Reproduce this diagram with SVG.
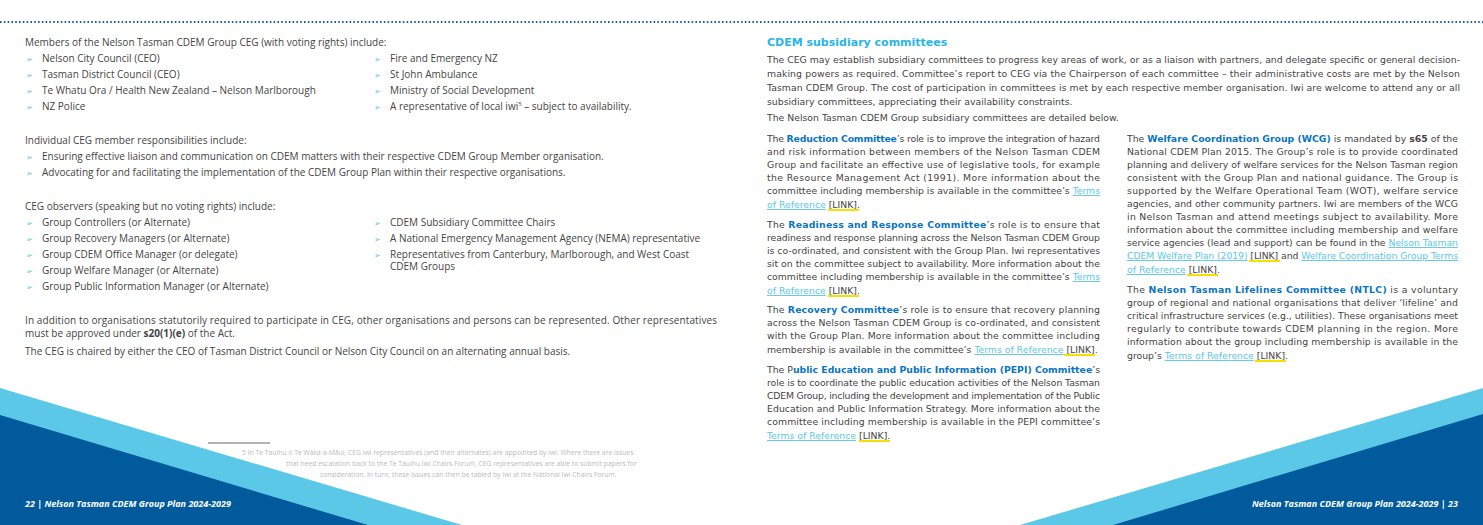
<svg xmlns="http://www.w3.org/2000/svg" width="1483" height="525" viewBox="0 0 1483 525">
<style>
.l{font-family:"Open Sans","Liberation Sans",sans-serif;font-size:10px;fill:#444}
.r{font-family:"DejaVu Sans","Liberation Sans",sans-serif;font-size:9.3px;fill:#444}
.b{fill:#0a74c4;font-weight:bold}
.k{fill:#5bc8e8;text-decoration:underline}
.h{font-family:"DejaVu Sans",sans-serif;font-size:11px;font-weight:bold;fill:#29b5e8}
.ar{fill:#5bc8e8;font-family:"DejaVu Sans",sans-serif;font-size:8px}
.fn{font-family:"Open Sans","Liberation Sans",sans-serif;font-size:6.8px;fill:#bbb}
.ft{font-family:"Open Sans","Liberation Sans",sans-serif;font-size:9px;font-weight:bold;font-style:italic;fill:#fff}
.yl{stroke:#f5e000;stroke-width:2}
</style>
<rect width="1483" height="525" fill="#fff"/>
<line x1="0" y1="22" x2="1483" y2="22" stroke="#1d5fa8" stroke-width="1.8" stroke-dasharray="1.6 2.2"/>
<g id="decor">
<polygon points="0,388 462,525 0,525" fill="#5bc8e8"/>
<polygon points="0,415 368,525 0,525" fill="#005a9c"/>
<polygon points="1483,388 1020,525 1483,525" fill="#5bc8e8"/>
<polygon points="1483,414 1113,525 1483,525" fill="#005a9c"/>
<line x1="208" y1="443" x2="270" y2="443" stroke="#666" stroke-width="1"/>
</g>
<g id="left-page">
<text class="l" x="25" y="46">Members of the Nelson Tasman CDEM Group CEG (with voting rights) include:</text>
<g class="ar"><text x="26" y="62">➢</text><text x="26" y="78">➢</text><text x="26" y="94">➢</text><text x="26" y="110">➢</text>
<text x="374" y="62">➢</text><text x="374" y="78">➢</text><text x="374" y="94">➢</text><text x="374" y="110">➢</text>
<text x="26" y="160">➢</text><text x="26" y="176">➢</text>
<text x="26" y="226">➢</text><text x="26" y="242">➢</text><text x="26" y="258">➢</text><text x="26" y="274">➢</text><text x="26" y="290">➢</text>
<text x="374" y="226">➢</text><text x="374" y="242">➢</text><text x="374" y="258">➢</text></g>
<text class="l" x="42" y="62">Nelson City Council (CEO)</text>
<text class="l" x="42" y="78">Tasman District Council (CEO)</text>
<text class="l" x="42" y="94">Te Whatu Ora / Health New Zealand – Nelson Marlborough</text>
<text class="l" x="42" y="110">NZ Police</text>
<text class="l" x="390" y="62">Fire and Emergency NZ</text>
<text class="l" x="390" y="78">St John Ambulance</text>
<text class="l" x="390" y="94">Ministry of Social Development</text>
<text class="l" x="390" y="110">A representative of local iwi<tspan font-size="6" dy="-4">5</tspan><tspan dy="4"> – subject to availability.</tspan></text>
<text class="l" x="25" y="144">Individual CEG member responsibilities include:</text>
<text class="l" x="42" y="160">Ensuring effective liaison and communication on CDEM matters with their respective CDEM Group Member organisation.</text>
<text class="l" x="42" y="176">Advocating for and facilitating the implementation of the CDEM Group Plan within their respective organisations.</text>
<text class="l" x="25" y="210">CEG observers (speaking but no voting rights) include:</text>
<text class="l" x="42" y="226">Group Controllers (or Alternate)</text>
<text class="l" x="42" y="242">Group Recovery Managers (or Alternate)</text>
<text class="l" x="42" y="258">Group CDEM Office Manager (or delegate)</text>
<text class="l" x="42" y="274">Group Welfare Manager (or Alternate)</text>
<text class="l" x="42" y="290">Group Public Information Manager (or Alternate)</text>
<text class="l" x="390" y="226">CDEM Subsidiary Committee Chairs</text>
<text class="l" x="390" y="242">A National Emergency Management Agency (NEMA) representative</text>
<text class="l" x="390" y="258">Representatives from Canterbury, Marlborough, and West Coast</text>
<text class="l" x="390" y="270">CDEM Groups</text>
<text class="l" x="25" y="324" textLength="692" lengthAdjust="spacing">In addition to organisations statutorily required to participate in CEG, other organisations and persons can be represented. Other representatives</text>
<text class="l" x="25" y="337">must be approved under <tspan font-weight="bold">s20(1)(e)</tspan> of the Act.</text>
<text class="l" x="25" y="355">The CEG is chaired by either the CEO of Tasman District Council or Nelson City Council on an alternating annual basis.</text>
<text class="fn" x="242" y="455">5   In Te Tauihu o Te Waka a-Māui, CEG iwi representatives (and their alternates) are appointed by iwi. Where there are issues</text>
<text class="fn" x="286" y="466">that need escalation back to the Te Tauihu Iwi Chairs Forum, CEG representatives are able to submit papers for</text>
<text class="fn" x="320" y="477">consideration. In turn, these issues can then be tabled by iwi at the National Iwi Chairs Forum.</text>
<text class="ft" x="25" y="507">22 | Nelson Tasman CDEM Group Plan 2024-2029</text>
</g>
<g id="right-page">
<text class="h" x="767" y="46">CDEM subsidiary committees</text>
<text class="r" x="767" y="63" textLength="693" lengthAdjust="spacing">The CEG may establish subsidiary committees to progress key areas of work, or as a liaison with partners, and delegate specific or general decision-</text>
<text class="r" x="767" y="77" textLength="693" lengthAdjust="spacing">making powers as required. Committee’s report to CEG via the Chairperson of each committee – their administrative costs are met by the Nelson</text>
<text class="r" x="767" y="91" textLength="693" lengthAdjust="spacing">Tasman CDEM Group. The cost of participation in committees is met by each respective member organisation. Iwi are welcome to attend any or all</text>
<text class="r" x="767" y="105">subsidiary committees, appreciating their availability constraints.</text>
<text class="r" x="767" y="121">The Nelson Tasman CDEM Group subsidiary committees are detailed below.</text>

<g id="reduction">
<text class="r" x="767" y="142" textLength="333" lengthAdjust="spacing">The <tspan class="b">Reduction Committee</tspan>’s role is to improve the integration of hazard</text>
<text class="r" x="767" y="155" textLength="333" lengthAdjust="spacing">and risk information between members of the Nelson Tasman CDEM</text>
<text class="r" x="767" y="168" textLength="333" lengthAdjust="spacing">Group and facilitate an effective use of legislative tools, for example</text>
<text class="r" x="767" y="181" textLength="333" lengthAdjust="spacing">the Resource Management Act (1991). More information about the</text>
<text class="r" x="767" y="194" textLength="333" lengthAdjust="spacing">committee including membership is available in the committee’s <tspan class="k">Terms</tspan></text>
<text class="r" x="767" y="208"><tspan class="k">of Reference</tspan> [LINK].</text>
<line class="yl" x1="828" y1="210" x2="859" y2="210"/>
</g>
<g id="readiness">
<text class="r" x="767" y="228" textLength="333" lengthAdjust="spacing">The <tspan class="b">Readiness and Response Committee</tspan>’s role is to ensure that</text>
<text class="r" x="767" y="241" textLength="333" lengthAdjust="spacing">readiness and response planning across the Nelson Tasman CDEM Group</text>
<text class="r" x="767" y="254" textLength="333" lengthAdjust="spacing">is co-ordinated, and consistent with the Group Plan. Iwi representatives</text>
<text class="r" x="767" y="267" textLength="333" lengthAdjust="spacing">sit on the committee subject to availability. More information about the</text>
<text class="r" x="767" y="280" textLength="333" lengthAdjust="spacing">committee including membership is available in the committee’s <tspan class="k">Terms</tspan></text>
<text class="r" x="767" y="294"><tspan class="k">of Reference</tspan> [LINK].</text>
<line class="yl" x1="828" y1="296" x2="859" y2="296"/>
</g>
<g id="recovery">
<text class="r" x="767" y="313" textLength="333" lengthAdjust="spacing">The <tspan class="b">Recovery Committee</tspan>’s role is to ensure that recovery planning</text>
<text class="r" x="767" y="326" textLength="333" lengthAdjust="spacing">across the Nelson Tasman CDEM Group is co-ordinated, and consistent</text>
<text class="r" x="767" y="339" textLength="333" lengthAdjust="spacing">with the Group Plan.  More information about the committee including</text>
<text class="r" x="767" y="353">membership is available in the committee’s <tspan class="k">Terms of Reference</tspan> [LINK].</text>
<line class="yl" x1="1064" y1="355" x2="1095" y2="355"/>
</g>
<g id="pepi">
<text class="r" x="767" y="373" textLength="333" lengthAdjust="spacing">The P<tspan class="b">ublic Education and Public Information (PEPI) Committee</tspan>’s</text>
<text class="r" x="767" y="386" textLength="333" lengthAdjust="spacing">role is to coordinate the public education activities of the Nelson Tasman</text>
<text class="r" x="767" y="399" textLength="333" lengthAdjust="spacing">CDEM Group, including the development and implementation of the Public</text>
<text class="r" x="767" y="412" textLength="333" lengthAdjust="spacing">Education and Public Information Strategy. More information about the</text>
<text class="r" x="767" y="425" textLength="333" lengthAdjust="spacing">committee including membership is available in the PEPI committee’s</text>
<text class="r" x="767" y="439"><tspan class="k">Terms of Reference</tspan> [LINK].</text>
<line class="yl" x1="859" y1="441" x2="890" y2="441"/>
</g>
<g id="wcg">
<text class="r" x="1127" y="142" textLength="331" lengthAdjust="spacing">The <tspan class="b">Welfare Coordination Group (WCG)</tspan> is mandated by <tspan font-weight="bold">s65</tspan> of the</text>
<text class="r" x="1127" y="155" textLength="331" lengthAdjust="spacing">National CDEM Plan 2015. The Group’s role is to provide coordinated</text>
<text class="r" x="1127" y="168" textLength="331" lengthAdjust="spacing">planning and delivery of welfare services for the Nelson Tasman region</text>
<text class="r" x="1127" y="181" textLength="331" lengthAdjust="spacing">consistent with the Group Plan and national guidance. The Group is</text>
<text class="r" x="1127" y="194" textLength="331" lengthAdjust="spacing">supported by the Welfare Operational Team (WOT), welfare service</text>
<text class="r" x="1127" y="207" textLength="331" lengthAdjust="spacing">agencies, and other community partners. Iwi are members of the WCG</text>
<text class="r" x="1127" y="220" textLength="331" lengthAdjust="spacing">in Nelson Tasman and attend meetings subject to availability. More</text>
<text class="r" x="1127" y="233" textLength="331" lengthAdjust="spacing">information about the committee including membership and welfare</text>
<text class="r" x="1127" y="246" textLength="331" lengthAdjust="spacing">service agencies (lead and support) can be found in the <tspan class="k">Nelson Tasman</tspan></text>
<text class="r" x="1127" y="259" textLength="331" lengthAdjust="spacing"><tspan class="k">CDEM Welfare Plan (2019)</tspan> [LINK] and <tspan class="k">Welfare Coordination Group Terms</tspan></text>
<text class="r" x="1127" y="273"><tspan class="k">of Reference</tspan> [LINK].</text>
<line class="yl" x1="1249" y1="261" x2="1280" y2="261"/>
<line class="yl" x1="1187" y1="275" x2="1218" y2="275"/>
</g>
<g id="ntlc">
<text class="r" x="1127" y="293" textLength="331" lengthAdjust="spacing">The <tspan class="b">Nelson Tasman Lifelines Committee (NTLC)</tspan> is a voluntary</text>
<text class="r" x="1127" y="306" textLength="331" lengthAdjust="spacing">group of regional and national organisations that deliver ‘lifeline’ and</text>
<text class="r" x="1127" y="319" textLength="331" lengthAdjust="spacing">critical infrastructure services (e.g., utilities). These organisations meet</text>
<text class="r" x="1127" y="332" textLength="331" lengthAdjust="spacing">regularly to contribute towards CDEM planning in the region. More</text>
<text class="r" x="1127" y="345" textLength="331" lengthAdjust="spacing">information about the group including membership is available in the</text>
<text class="r" x="1127" y="359">group’s <tspan class="k">Terms of Reference</tspan> [LINK].</text>
<line class="yl" x1="1255" y1="361" x2="1286" y2="361"/>
</g>
<text class="ft" x="1458" y="507" text-anchor="end">Nelson Tasman CDEM Group Plan 2024-2029 | 23</text>
</g>
</svg>
